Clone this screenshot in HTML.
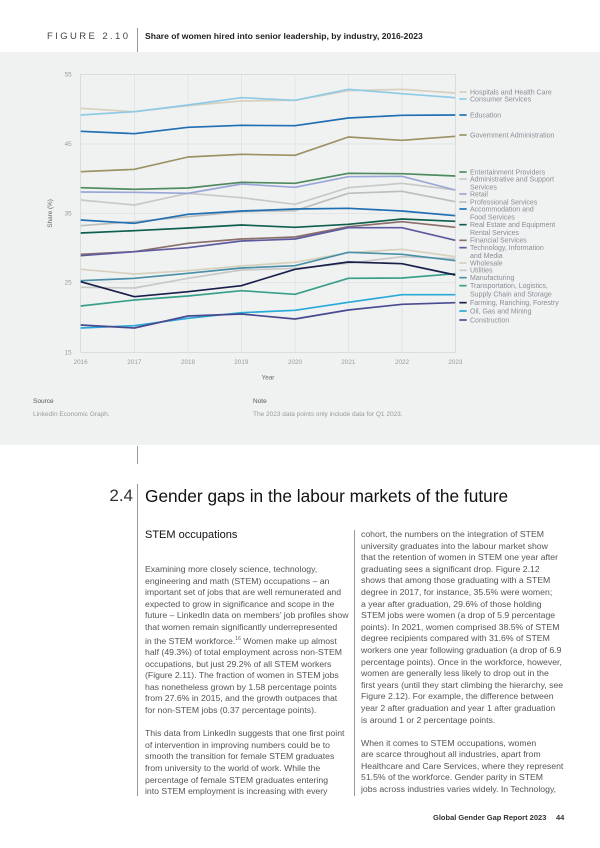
<!DOCTYPE html>
<html><head><meta charset="utf-8"><style>
body{margin:0;width:600px;height:848px;background:#fff;position:relative;overflow:hidden;font-family:"Liberation Sans",sans-serif;}
.a{position:absolute;white-space:nowrap;}
.body{font-size:8.7px;line-height:11.6px;color:#555;}
</style></head><body>
<div class="a" style="left:47px;top:31px;font-size:9.5px;letter-spacing:2.4px;color:#444;">FIGURE 2.10</div>
<div class="a" style="left:137px;top:28px;width:1px;height:24px;background:#999;"></div>
<div class="a" style="left:145px;top:31px;font-size:8.6px;font-weight:bold;color:#222;">Share of women hired into senior leadership, by industry, 2016-2023</div>
<div class="a" style="left:0;top:52px;width:600px;height:393px;background:#f0f2f2;"></div>

<svg class="a" style="left:40px;top:60px" width="560" height="320" viewBox="0 0 1680 960" font-family="Liberation Sans, sans-serif">
<g stroke="#dcdfdf" stroke-width="2" fill="none">
<line x1="122" y1="252" x2="1246" y2="252"/><line x1="122" y1="460" x2="1246" y2="460"/><line x1="122" y1="668" x2="1246" y2="668"/>
<line x1="283" y1="43" x2="283" y2="877"/><line x1="444" y1="43" x2="444" y2="877"/><line x1="604" y1="43" x2="604" y2="877"/><line x1="765" y1="43" x2="765" y2="877"/><line x1="925" y1="43" x2="925" y2="877"/><line x1="1086" y1="43" x2="1086" y2="877"/>
<rect x="122" y="43" width="1124" height="834" stroke="#cfd3d3"/>
</g>
<g font-size="19" fill="#999" text-anchor="end">
<text x="95" y="49">55</text><text x="95" y="258">45</text><text x="95" y="466">35</text><text x="95" y="674">25</text><text x="95" y="883">15</text>
</g>
<g font-size="19" fill="#999" text-anchor="middle">
<text x="122" y="912">2016</text><text x="283" y="912">2017</text><text x="444" y="912">2018</text><text x="604" y="912">2019</text><text x="765" y="912">2020</text><text x="925" y="912">2021</text><text x="1086" y="912">2022</text><text x="1246" y="912">2023</text>
<text x="684" y="958" fill="#666">Year</text>
<text transform="translate(36,460) rotate(-90)" fill="#666">Share (%)</text>
</g>
<g fill="none" stroke-width="5" stroke-linejoin="round">
<polyline stroke="#d6d0bd" points="122,145 283,155 444,137 604,123 765,121 925,92 1086,88 1246,99"/>
<polyline stroke="#8ecae6" points="122,165 283,155 444,135 604,113 765,121 925,88 1086,101 1246,113"/>
<polyline stroke="#1f6fb2" points="122,214 283,221 444,202 604,196 765,197 925,174 1086,166 1246,165"/>
<polyline stroke="#9a9262" points="122,335 283,328 444,291 604,283 765,286 925,231 1086,241 1246,229"/>
<polyline stroke="#4e8a5e" points="122,383 283,388 444,384 604,367 765,370 925,340 1086,341 1246,348"/>
<polyline stroke="#c8c8c8" points="122,420 283,435 444,400 604,413 765,433 925,383 1086,370 1246,390"/>
<polyline stroke="#9aa6d8" points="122,396 283,397 444,400 604,372 765,382 925,350 1086,349 1246,390"/>
<polyline stroke="#bdbdbd" points="122,497 283,485 444,470 604,455 765,452 925,400 1086,394 1246,425"/>
<polyline stroke="#1f6fb2" points="122,480 283,490 444,463 604,453 765,447 925,445 1086,453 1246,467"/>
<polyline stroke="#0f5f4e" points="122,519 283,512 444,504 604,495 765,502 925,493 1086,477 1246,484"/>
<polyline stroke="#8a6f6a" points="122,583 283,575 444,550 604,537 765,531 925,500 1086,485 1246,502"/>
<polyline stroke="#5e5aa0" points="122,587 283,575 444,563 604,543 765,537 925,503 1086,503 1246,541"/>
<polyline stroke="#d6d0bd" points="122,628 283,642 444,632 604,618 765,607 925,578 1086,568 1246,590"/>
<polyline stroke="#c8c8c8" points="122,682 283,684 444,655 604,630 765,625 925,610 1086,590 1246,596"/>
<polyline stroke="#4a8fa8" points="122,662 283,655 444,640 604,624 765,617 925,577 1086,583 1246,602"/>
<polyline stroke="#3a9f8a" points="122,738 283,720 444,708 604,692 765,703 925,655 1086,654 1246,641"/>
<polyline stroke="#1a1f4a" points="122,665 283,710 444,695 604,677 765,628 925,606 1086,611 1246,645"/>
<polyline stroke="#29a9d8" points="122,804 283,797 444,775 604,758 765,751 925,727 1086,704 1246,704"/>
<polyline stroke="#4a4a90" points="122,795 283,804 444,768 604,762 765,777 925,750 1086,733 1246,728"/>
</g>
<g stroke-width="5">
<line x1="1258" x2="1280" y1="96" y2="96" stroke="#d6d0bd"/>
<line x1="1258" x2="1280" y1="117" y2="117" stroke="#8ecae6"/>
<line x1="1258" x2="1280" y1="165" y2="165" stroke="#1f6fb2"/>
<line x1="1258" x2="1280" y1="225" y2="225" stroke="#9a9262"/>
<line x1="1258" x2="1280" y1="336" y2="336" stroke="#4e8a5e"/>
<line x1="1258" x2="1280" y1="357" y2="357" stroke="#c8c8c8"/>
<line x1="1258" x2="1280" y1="402" y2="402" stroke="#9aa6d8"/>
<line x1="1258" x2="1280" y1="426" y2="426" stroke="#bdbdbd"/>
<line x1="1258" x2="1280" y1="447" y2="447" stroke="#1f6fb2"/>
<line x1="1258" x2="1280" y1="494" y2="494" stroke="#0f5f4e"/>
<line x1="1258" x2="1280" y1="541" y2="541" stroke="#8a6f6a"/>
<line x1="1258" x2="1280" y1="563" y2="563" stroke="#5e5aa0"/>
<line x1="1258" x2="1280" y1="609" y2="609" stroke="#d6d0bd"/>
<line x1="1258" x2="1280" y1="631" y2="631" stroke="#c8c8c8"/>
<line x1="1258" x2="1280" y1="653" y2="653" stroke="#4a8fa8"/>
<line x1="1258" x2="1280" y1="677" y2="677" stroke="#3a9f8a"/>
<line x1="1258" x2="1280" y1="728" y2="728" stroke="#1a1f4a"/>
<line x1="1258" x2="1280" y1="753" y2="753" stroke="#29a9d8"/>
<line x1="1258" x2="1280" y1="780" y2="780" stroke="#4a4a90"/>
</g>
<g font-size="21" fill="#8a8f95">
<text x="1290" y="103">Hospitals and Health Care</text>
<text x="1290" y="124">Consumer Services</text>
<text x="1290" y="172">Education</text>
<text x="1290" y="232">Government Administration</text>
<text x="1290" y="343">Entertainment Providers</text>
<text x="1290" y="364">Administrative and Support</text>
<text x="1290" y="388">Services</text>
<text x="1290" y="409">Retail</text>
<text x="1290" y="433">Professional Services</text>
<text x="1290" y="454">Accommodation and</text>
<text x="1290" y="478">Food Services</text>
<text x="1290" y="501">Real Estate and Equipment</text>
<text x="1290" y="525">Rental Services</text>
<text x="1290" y="548">Financial Services</text>
<text x="1290" y="570">Technology, Information</text>
<text x="1290" y="594">and Media</text>
<text x="1290" y="616">Wholesale</text>
<text x="1290" y="638">Utilities</text>
<text x="1290" y="660">Manufacturing</text>
<text x="1290" y="684">Transportation, Logistics,</text>
<text x="1290" y="710">Supply Chain and Storage</text>
<text x="1290" y="735">Farming, Ranching, Forestry</text>
<text x="1290" y="760">Oil, Gas and Mining</text>
<text x="1290" y="787">Construction</text>
</g>
</svg>

<div class="a" style="left:33px;top:398px;font-size:6.5px;color:#555;">Source</div>
<div class="a" style="left:33px;top:411px;font-size:6.5px;color:#999;">LinkedIn Economic Graph.</div>
<div class="a" style="left:253px;top:398px;font-size:6.5px;color:#555;">Note</div>
<div class="a" style="left:253px;top:411px;font-size:6.5px;color:#999;">The 2023 data points only include data for Q1 2023.</div>

<div class="a" style="left:137px;top:446px;width:1px;height:18px;background:#999;"></div>
<div class="a" style="left:137px;top:484px;width:1px;height:312px;background:#999;"></div>
<div class="a" style="left:354px;top:530px;width:1px;height:266px;background:#999;"></div>
<div class="a" style="left:60px;top:486px;width:73px;text-align:right;font-size:17px;color:#333;">2.4</div>
<div class="a" style="left:145px;top:486px;font-size:17.3px;color:#111;">Gender gaps in the labour markets of the future</div>
<div class="a" style="left:145px;top:529px;font-size:11px;color:#111;">STEM occupations</div>

<div class="a body" style="left:145px;top:564px;">Examining more closely science, technology,<br>engineering and math (STEM) occupations – an<br>important set of jobs that are well remunerated and<br>expected to grow in significance and scope in the<br>future – LinkedIn data on members’ job profiles show<br>that women remain significantly underrepresented<br>in the STEM workforce.<sup style="font-size:5px">16</sup> Women make up almost<br>half (49.3%) of total employment across non-STEM<br>occupations, but just 29.2% of all STEM workers<br>(Figure 2.11). The fraction of women in STEM jobs<br>has nonetheless grown by 1.58 percentage points<br>from 27.6% in 2015, and the growth outpaces that<br>for non-STEM jobs (0.37 percentage points).<br><br>This data from LinkedIn suggests that one first point<br>of intervention in improving numbers could be to<br>smooth the transition for female STEM graduates<br>from university to the world of work. While the<br>percentage of female STEM graduates entering<br>into STEM employment is increasing with every</div>

<div class="a body" style="left:361px;top:529px;">cohort, the numbers on the integration of STEM<br>university graduates into the labour market show<br>that the retention of women in STEM one year after<br>graduating sees a significant drop. Figure 2.12<br>shows that among those graduating with a STEM<br>degree in 2017, for instance, 35.5% were women;<br>a year after graduation, 29.6% of those holding<br>STEM jobs were women (a drop of 5.9 percentage<br>points). In 2021, women comprised 38.5% of STEM<br>degree recipients compared with 31.6% of STEM<br>workers one year following graduation (a drop of 6.9<br>percentage points). Once in the workforce, however,<br>women are generally less likely to drop out in the<br>first years (until they start climbing the hierarchy, see<br>Figure 2.12). For example, the difference between<br>year 2 after graduation and year 1 after graduation<br>is around 1 or 2 percentage points.<br><br>When it comes to STEM occupations, women<br>are scarce throughout all industries, apart from<br>Healthcare and Care Services, where they represent<br>51.5% of the workforce. Gender parity in STEM<br>jobs across industries varies widely. In Technology,</div>

<div class="a" style="left:433px;top:813px;font-size:7.5px;font-weight:bold;color:#333;">Global Gender Gap Report 2023</div>
<div class="a" style="left:556px;top:813px;font-size:7.5px;font-weight:bold;color:#333;">44</div>
</body></html>
